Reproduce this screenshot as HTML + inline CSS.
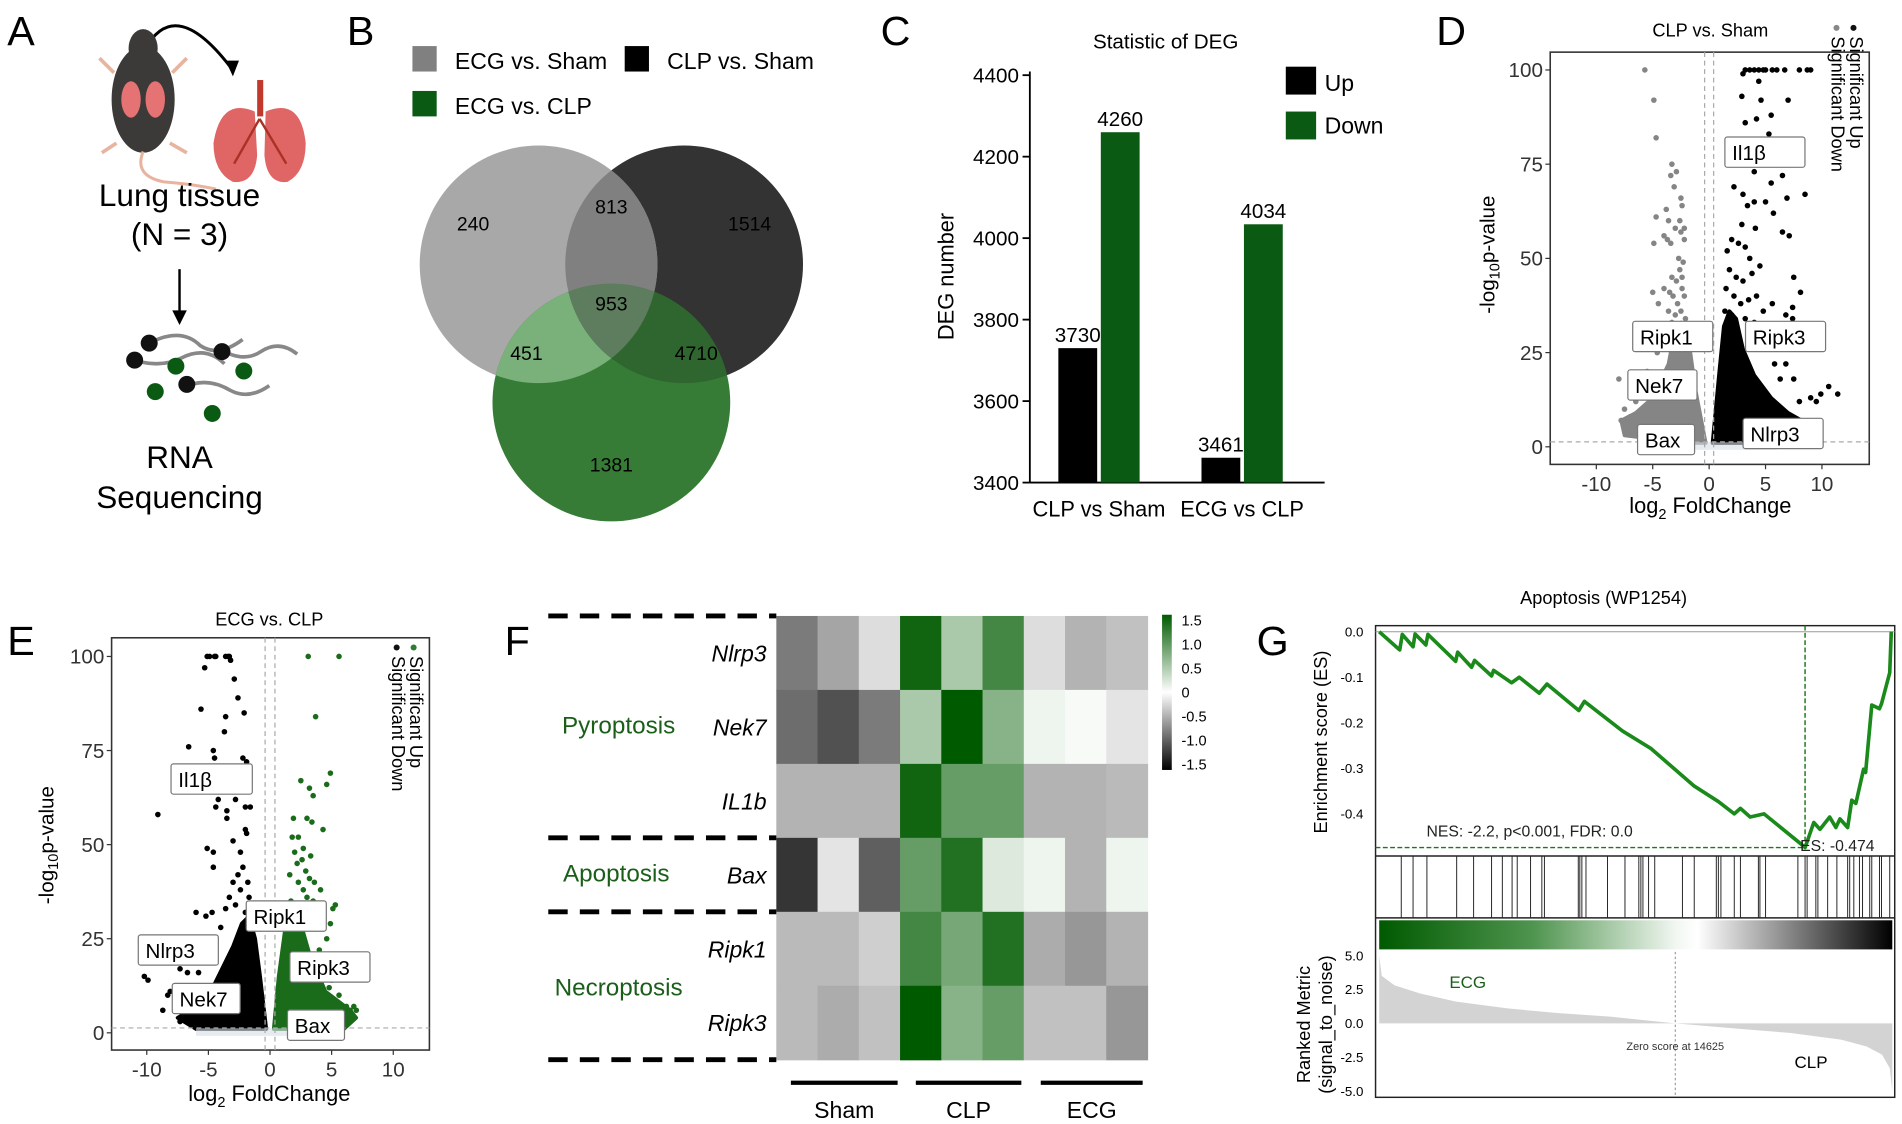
<!DOCTYPE html>
<html><head><meta charset="utf-8"><style>
html,body{margin:0;padding:0;background:#fff;}
svg{display:block;font-family:"Liberation Sans",sans-serif;}
</style></head><body>
<svg id="fig" xmlns="http://www.w3.org/2000/svg" width="1902" height="1124" viewBox="0 0 1568 927" preserveAspectRatio="none">
<defs>
<linearGradient id="gsea-bar" x1="0" x2="1" y1="0" y2="0">
<stop offset="0" stop-color="#005a00"/><stop offset="0.3" stop-color="#4f944f"/><stop offset="0.58" stop-color="#f2f7f2"/><stop offset="0.62" stop-color="#ffffff"/><stop offset="1" stop-color="#000"/>
</linearGradient>
<linearGradient id="heat-bar" x1="0" x2="0" y1="0" y2="1">
<stop offset="0" stop-color="#005a00"/><stop offset="0.5" stop-color="#ffffff"/><stop offset="1" stop-color="#000"/>
</linearGradient>
<clipPath id="clip-gray"><circle cx="444" cy="218" r="98"/></clipPath>
<clipPath id="clip-dark"><circle cx="564" cy="218" r="98"/></clipPath>
<clipPath id="clip-green"><circle cx="504" cy="332" r="98"/></clipPath>
</defs>
<!-- Panel A -->
<g>
<text x="6" y="37" font-size="34">A</text>
<path d="M120 40 Q145 -5 192 58" fill="none" stroke="#000" stroke-width="2.5"/>
<polygon points="186,50 197,50 192,63" fill="#000"/>
<g>
<ellipse cx="118" cy="82" rx="26" ry="44" fill="#3c3a38"/>
<ellipse cx="118" cy="40" rx="12" ry="16" fill="#3c3a38"/>
<ellipse cx="108" cy="82" rx="8" ry="15" fill="#e57373"/><ellipse cx="128" cy="82" rx="8" ry="15" fill="#e57373"/>
<path d="M118 125 Q110 145 135 150 Q160 152 178 156" fill="none" stroke="#e8b4a0" stroke-width="2.5"/>
<line x1="94" y1="60" x2="82" y2="48" stroke="#e8b4a0" stroke-width="3"/><line x1="142" y1="60" x2="154" y2="48" stroke="#e8b4a0" stroke-width="3"/>
<line x1="96" y1="118" x2="84" y2="126" stroke="#e8b4a0" stroke-width="3"/><line x1="140" y1="118" x2="154" y2="126" stroke="#e8b4a0" stroke-width="3"/>
</g>
<g>
<rect x="212" y="66" width="5" height="30" fill="#c0392b"/>
<path d="M210 92 Q182 80 176 118 Q176 142 192 150 Q210 152 212 128 Z" fill="#e06666"/>
<path d="M219 92 Q248 80 252 118 Q252 142 237 150 Q220 152 218 128 Z" fill="#e06666"/>
<path d="M214 98 L193 135 M214 98 L236 135" stroke="#a93226" stroke-width="2" fill="none"/>
</g>
<text x="148" y="170" font-size="26" text-anchor="middle">Lung tissue</text>
<text x="148" y="202" font-size="26" text-anchor="middle">(N = 3)</text>
<line x1="148" y1="222" x2="148" y2="258" stroke="#000" stroke-width="2"/>
<polygon points="142,256 154,256 148,268" fill="#000"/>
<g fill="none" stroke="#888" stroke-width="3">
<path d="M125 282 Q150 270 165 285 Q180 295 200 280"/>
<path d="M105 295 Q130 305 150 295 Q170 285 185 300"/>
<path d="M180 287 Q200 300 215 290 Q230 280 245 292"/>
<path d="M150 320 Q170 310 190 322 Q205 330 222 318"/>
</g>
<g>
<circle cx="123" cy="283" r="7" fill="#111"/><circle cx="111" cy="297" r="7" fill="#111"/><circle cx="183" cy="290" r="7" fill="#111"/><circle cx="154" cy="317" r="7" fill="#111"/>
<circle cx="145" cy="302" r="7" fill="#0a5a14"/><circle cx="128" cy="323" r="7" fill="#0a5a14"/><circle cx="201" cy="306" r="7" fill="#0a5a14"/><circle cx="175" cy="341" r="7" fill="#0a5a14"/>
</g>
<text x="148" y="386" font-size="26" text-anchor="middle">RNA</text>
<text x="148" y="419" font-size="26" text-anchor="middle">Sequencing</text>
</g>
<!-- Panel B -->
<g>
<text x="286" y="37" font-size="34">B</text>
<rect x="340" y="38" width="20" height="21" fill="#808080"/>
<text x="375" y="57" font-size="19">ECG vs. Sham</text>
<rect x="515" y="38" width="20" height="21" fill="#000"/>
<text x="550" y="57" font-size="19">CLP vs. Sham</text>
<rect x="340" y="75" width="20" height="21" fill="#0a5a14"/>
<text x="375" y="94" font-size="19">ECG vs. CLP</text>
<circle cx="564" cy="218" r="98" fill="#333333"/>
<circle cx="444" cy="218" r="98" fill="#a8a8a8"/>
<circle cx="504" cy="332" r="98" fill="#367c36"/>
<g clip-path="url(#clip-gray)">
<circle cx="564" cy="218" r="98" fill="#808080"/>
<circle cx="504" cy="332" r="98" fill="#7ab07a"/>
</g>
<g clip-path="url(#clip-dark)">
<circle cx="504" cy="332" r="98" fill="#2f662f"/>
<g clip-path="url(#clip-gray)"><circle cx="504" cy="332" r="98" fill="#5e7c5e"/></g>
</g>
<g id="venn-labels" font-size="16" text-anchor="middle"></g>
</g>
<!-- Panel C -->
<g id="panel-c">
<text x="726" y="37" font-size="34">C</text>
<text x="961" y="40" font-size="17" text-anchor="middle">Statistic of DEG</text>
<text transform="translate(786,228) rotate(-90)" font-size="18" text-anchor="middle">DEG number</text>
<rect x="1060" y="55" width="25" height="23" fill="#000"/>
<text x="1092" y="75" font-size="19">Up</text>
<rect x="1060" y="92" width="25" height="23" fill="#0a5a14"/>
<text x="1092" y="110" font-size="19">Down</text>
</g>
<!-- Panel D -->
<g id="panel-d">
<text x="1184" y="37" font-size="34">D</text>
<text x="1410" y="30" font-size="15" text-anchor="middle">CLP vs. Sham</text>
<text transform="translate(1232,210) rotate(-90)" font-size="17" text-anchor="middle">-log<tspan font-size="12" dy="4">10</tspan><tspan dy="-4">p-value</tspan></text>
<text x="1410" y="423" font-size="18" text-anchor="middle">log<tspan font-size="12" dy="5">2</tspan><tspan dy="-5"> FoldChange</tspan></text>
</g>
<!-- Panel E -->
<g id="panel-e">
<text x="6" y="540" font-size="34">E</text>
<text x="222" y="516" font-size="15" text-anchor="middle">ECG vs. CLP</text>
<text transform="translate(44,697) rotate(-90)" font-size="17" text-anchor="middle">-log<tspan font-size="12" dy="4">10</tspan><tspan dy="-4">p-value</tspan></text>
<text x="222" y="908" font-size="18" text-anchor="middle">log<tspan font-size="12" dy="5">2</tspan><tspan dy="-5"> FoldChange</tspan></text>
</g>
<!-- Panel F -->
<g id="panel-f">
<text x="416" y="540" font-size="34">F</text>
<rect x="958" y="507" width="8" height="128" fill="url(#heat-bar)"/>
<text x="510" y="605" font-size="20" fill="#1a5e1a" text-anchor="middle">Pyroptosis</text>
<text x="508" y="727" font-size="20" fill="#1a5e1a" text-anchor="middle">Apoptosis</text>
<text x="510" y="821" font-size="20" fill="#1a5e1a" text-anchor="middle">Necroptosis</text>
</g>
<!-- Panel G -->
<g id="panel-g">
<text x="1036" y="540" font-size="34">G</text>
<text x="1322" y="498" font-size="15" text-anchor="middle">Apoptosis (WP1254)</text>
<text transform="translate(1094,612) rotate(-90)" font-size="15" text-anchor="middle">Enrichment score (ES)</text>
<text transform="translate(1080,845) rotate(-90)" font-size="15" text-anchor="middle">Ranked Metric</text>
<text transform="translate(1098,845) rotate(-90)" font-size="15" text-anchor="middle">(signal_to_noise)</text>
</g>
</svg>
<script>
// ---------- data ----------
const vennValues = [240, 813, 1514, 953, 451, 4710, 1381];
const degCategories = ["CLP vs Sham", "ECG vs CLP"];
const degUp = [3730, 3461];
const degDown = [4260, 4034];
const degTicks = [3400, 3600, 3800, 4000, 4200, 4400];

const volTicksX = [-10, -5, 0, 5, 10];
const volTicksY = [0, 25, 50, 75, 100];
const dDownPts = [[-5.7,100],[-4.9,92],[-4.7,82],[-3.3,75],[-3.4,72],[-2.9,73],[-3.1,69],[-2.5,66],[-2.4,64],[-3.8,63],[-4.7,61],[-3.6,60],[-2.6,60],[-3.0,58],[-2.5,57],[-2.2,58],[-4.0,56],[-3.7,55],[-2.2,55],[-4.9,54],[-3.4,54],[-2.7,50],[-2.3,49],[-3.3,45],[-5.0,41],[-4.0,42],[-4.5,38],[-3.2,40],[-8.0,18],[-7.5,10],[-7.0,8],[-6.5,12],[-6.0,14],[-5.5,20],[-5.0,28],[-4.3,30],[-4.6,25],[-6.4,6],[-7.8,7],[-2.8,38],[-2.4,42],[-3.6,36],[-2.6,47],[-2.9,44],[-2.2,40],[-3.0,35],[-2.5,36],[-3.3,33],[-2.1,34],[-2.7,31],[-3.8,31],[-3.5,41],[-2.4,45]];
const dDownArea = [[-0.3,1],[-1.2,15],[-1.8,28],[-2.5,33],[-3.1,30],[-3.6,22],[-5.0,13],[-6.5,9],[-7.8,7],[-7.5,3],[-2.0,1]];
const dUpPts = [[3.0,99],[3.2,100],[3.6,100],[4.0,100],[4.4,100],[4.8,100],[5.0,100],[5.6,100],[6.0,100],[6.7,100],[8.0,100],[8.7,100],[9.0,100],[4.4,97],[2.9,93],[4.6,92],[7.0,92],[5.5,88],[3.2,86],[4.2,87],[5.3,83],[8.5,67],[6.5,72],[4.0,73],[5.5,70],[6.9,66],[2.2,69],[3.0,67],[3.4,64],[4.0,65],[5.0,65],[5.7,62],[2.9,59],[4.1,58],[6.5,57],[7.1,56],[7.5,45],[8.1,41],[7.4,37],[7.4,34],[6.8,35],[9.5,12],[9.0,13],[10.6,16],[11.4,14],[9.9,14],[8.0,12],[5.6,38],[6.0,28],[6.8,22],[7.5,18],[1.6,52],[2.0,55],[2.6,54],[3.2,53],[3.6,50],[1.8,47],[2.4,45],[3.0,44],[3.8,46],[4.5,48],[1.5,42],[2.2,40],[2.8,38],[3.5,39],[4.2,40],[1.4,36],[2.0,35],[3.2,34],[4.0,33],[4.8,36],[5.2,30],[4.5,27],[3.6,30],[5.8,22],[6.3,18]];
const dUpArea = [[0.3,1],[0.9,20],[1.3,32],[1.8,36],[2.4,34],[3.0,26],[4.0,19],[5.5,13],[7.0,9],[8.2,7],[8.3,2],[5.0,1]];

const eUpPts = [[-5.1,100],[-4.9,100],[-4.5,100],[-4.4,100],[-3.6,100],[-3.4,100],[-3.3,100],[-3.2,99],[-5.3,97],[-2.9,94],[-2.6,89],[-5.6,86],[-2.1,85],[-3.6,84],[-3.7,80],[-6.6,76],[-4.6,75],[-4.5,73],[-2.2,73],[-1.9,72],[-9.1,58],[-4.2,62],[-2.8,62],[-4.4,60],[-2.0,60],[-1.6,60],[-3.5,59],[-3.5,57],[-2.0,54],[-1.9,53],[-3.0,51],[-5.1,49],[-4.6,48],[-2.4,48],[-4.6,44],[-10.2,15],[-9.9,14],[-8.3,10],[-8.1,11],[-8.7,6],[-6.0,32],[-5.2,31],[-4.7,32],[-7.3,17],[-6.7,16],[-7.3,3],[-2.2,44],[-2.6,42],[-1.8,40],[-3.0,40],[-2.4,38],[-3.3,36],[-1.7,36],[-2.8,34],[-3.6,33],[-2.0,32],[-4.0,28],[-4.5,24],[-5.0,20],[-5.8,16],[-6.5,12]];
const eUpArea = [[-0.3,1],[-0.8,15],[-1.2,25],[-1.7,31],[-2.3,29],[-3.0,23],[-4.5,13],[-6.0,7],[-7.5,4],[-6.0,1]];
const eDownPts = [[3.1,100],[5.6,100],[3.7,84],[2.5,67],[3.2,65],[4.9,69],[4.6,66],[3.5,63],[1.9,57],[3.0,57],[3.4,56],[4.3,54],[2.3,52],[2.7,49],[3.3,47],[4.1,38],[5.3,34],[5.1,33],[4.9,29],[6.2,7],[6.8,7],[7.0,6],[6.5,6],[4.8,12],[4.2,12],[3.9,11],[3.6,40],[2.2,45],[4.6,25],[1.8,52],[2.0,48],[2.6,46],[2.9,43],[3.2,41],[1.6,42],[2.3,40],[2.7,38],[3.0,36],[3.5,35],[1.7,35],[2.2,34],[3.8,30],[4.2,28],[4.0,22],[5.0,14],[5.6,10]];
const eDownArea = [[0.3,1],[0.7,15],[1.2,27],[1.8,31],[2.5,29],[3.2,21],[4.5,11],[6.5,6],[7.0,4],[6.0,1]];

const heatGenes = ["Nlrp3","Nek7","IL1b","Bax","Ripk1","Ripk3"];
const heatSamples = ["Sham1","Sham2","Sham3","CLP1","CLP2","CLP3","ECG1","ECG2","ECG3"];
const heatValues = [
 [-0.8,-0.5,-0.1,1.4,0.5,1.1,-0.1,-0.4,-0.3],
 [-0.9,-1.1,-0.8,0.5,1.6,0.7,0.1,0.05,-0.05],
 [-0.4,-0.4,-0.4,1.4,0.9,0.9,-0.4,-0.4,-0.35],
 [-1.3,-0.05,-1.0,0.9,1.3,0.2,0.1,-0.4,0.1],
 [-0.35,-0.35,-0.2,1.1,0.8,1.3,-0.45,-0.6,-0.4],
 [-0.35,-0.45,-0.3,1.6,0.7,0.9,-0.3,-0.3,-0.6]];
const heatScaleTicks = ["1.5","1.0","0.5","0","-0.5","-1.0","-1.5"];

const esRank = [0,0.04,0.045,0.066,0.07,0.091,0.095,0.149,0.153,0.18,0.186,0.219,0.223,0.258,0.273,0.312,0.327,0.389,0.4,0.474,0.529,0.614,0.661,0.692,0.704,0.723,0.75,0.824,0.83,0.847,0.859,0.878,0.89,0.898,0.913,0.921,0.929,0.944,0.948,0.96,0.975,0.979,0.995,0.998];
const esValue = [0,-0.04,-0.006,-0.033,-0.005,-0.029,-0.006,-0.065,-0.045,-0.078,-0.063,-0.097,-0.085,-0.112,-0.1,-0.135,-0.115,-0.173,-0.153,-0.218,-0.256,-0.339,-0.373,-0.4,-0.388,-0.407,-0.4,-0.468,-0.474,-0.419,-0.434,-0.407,-0.43,-0.411,-0.43,-0.37,-0.377,-0.302,-0.309,-0.161,-0.169,-0.158,-0.09,0];
const esTicks = [0,-0.1,-0.2,-0.3,-0.4];
const hitRanks = [.043,.066,.093,.151,.184,.219,.240,.259,.269,.295,.317,.322,.388,.391,.395,.403,.445,.479,.506,.510,.514,.525,.537,.591,.614,.657,.661,.666,.692,.704,.739,.742,.753,.816,.830,.834,.851,.855,.874,.892,.913,.917,.925,.936,.942,.956,.960,.975,.979,.995];
const metricRank = [0,0.005,0.03,0.08,0.15,0.25,0.35,0.45,0.577,0.7,0.8,0.9,0.95,0.98,0.995,1];
const metricValue = [5,3.5,2.8,2.2,1.6,1.1,0.75,0.5,0,-0.4,-0.7,-1.2,-1.7,-2.3,-3.3,-5];
const metricTicks = [5,2.5,0,-2.5,-5];
const esMin = -0.474, esMinRank = 0.83, zeroRank = 0.577;

// ---------- helpers ----------
const NS = "http://www.w3.org/2000/svg";
function mk(parent, tag, attrs, name, inter) {
  const el = document.createElementNS(NS, tag);
  for (const k in attrs) el.setAttribute(k, attrs[k]);
  
  
  parent.appendChild(el);
  return el;
}
function txt(parent, x, y, s, size, name, extra) {
  const a = Object.assign({x:x, y:y, 'font-size':size}, extra || {});
  const t = mk(parent, 'text', a, name, false);
  t.textContent = s;
  return t;
}

// ---------- Venn ----------
(function(){
  const g = document.getElementById('venn-labels');
  const pos = [[390,190],[504,176],[618,190],[504,256],[434,297],[574,297],[504,389]];
  const names = ['venn-ecg-sham-only','venn-ecg-sham-clp-sham','venn-clp-sham-only','venn-all-three','venn-ecg-sham-ecg-clp','venn-clp-sham-ecg-clp','venn-ecg-clp-only'];
  vennValues.forEach((v,i)=>{ txt(g, pos[i][0], pos[i][1], String(v), 16, names[i], {'text-anchor':'middle'}); });
})();

// ---------- Bar chart C ----------
(function(){
  const g = document.getElementById('panel-c');
  const y0 = 398, top = 62, vmin = 3400, vmax = 4400;
  const yC = v => y0 - (v - vmin) * (y0 - top) / (vmax - vmin);
  const centers = [906, 1024], bw = 32, gap = 3;
  mk(g,'line',{x1:849,y1:top-3,x2:849,y2:y0,stroke:'#000','stroke-width':1.5},'y-axis-deg',false);
  mk(g,'line',{x1:849,y1:y0,x2:1092,y2:y0,stroke:'#000','stroke-width':1.5},'x-axis-deg',false);
  degTicks.forEach(t=>{
    mk(g,'line',{x1:843,y1:yC(t),x2:849,y2:yC(t),stroke:'#000','stroke-width':1.5},'y-tick-'+t,false);
    txt(g, 840, yC(t)+6, String(t), 17, 'y-tick-label-'+t, {'text-anchor':'end'});
  });
  degCategories.forEach((c,i)=>{
    const xu = centers[i] - gap/2 - bw, xd = centers[i] + gap/2;
    mk(g,'rect',{x:xu,y:yC(degUp[i]),width:bw,height:y0-yC(degUp[i]),fill:'#000'},'bar-up-'+i,false);
    mk(g,'rect',{x:xd,y:yC(degDown[i]),width:bw,height:y0-yC(degDown[i]),fill:'#0a5a14'},'bar-down-'+i,false);
    txt(g, xu+bw/2, yC(degUp[i])-5, String(degUp[i]), 17, 'value-up-'+i, {'text-anchor':'middle'});
    txt(g, xd+bw/2, yC(degDown[i])-5, String(degDown[i]), 17, 'value-down-'+i, {'text-anchor':'middle'});
    txt(g, centers[i], 426, c, 18, 'x-tick-label-'+i, {'text-anchor':'middle'});
  });
})();

// ---------- Volcano ----------
function volcano(gid, box, x0, xs, y0, ys, downPts, downArea, upPts, upArea, leftColor, rightColor, labels, legend) {
  const g = document.getElementById(gid);
  const X = v => x0 + v*xs, Y = v => y0 - v*ys;
  mk(g,'rect',{x:box[0],y:box[1],width:box[2],height:box[3],fill:'#fff',stroke:'#333','stroke-width':1.3},'plot-area',false);
  mk(g,'polygon',{points:downArea.map(p=>X(p[0])+','+Y(p[1])).join(' '),fill:leftColor,stroke:leftColor,'stroke-width':3,'stroke-linejoin':'round'},'dense-left',false);
  mk(g,'polygon',{points:upArea.map(p=>X(p[0])+','+Y(p[1])).join(' '),fill:rightColor,stroke:rightColor,'stroke-width':3,'stroke-linejoin':'round'},'dense-right',false);
  mk(g,'rect',{x:X(-6),y:Y(1.2),width:X(6)-X(-6),height:Y(-0.8)-Y(1.2),fill:'#d6dde6',opacity:0.6},'nonsig-points',false);
  downPts.forEach((p,i)=>mk(g,'circle',{cx:X(p[0]),cy:Y(p[1]),r:2.3,fill:leftColor},'point-left-'+i,false));
  upPts.forEach((p,i)=>mk(g,'circle',{cx:X(p[0]),cy:Y(p[1]),r:2.3,fill:rightColor},'point-right-'+i,false));
  mk(g,'line',{x1:X(-0.4),y1:box[1],x2:X(-0.4),y2:box[1]+box[3],stroke:'#aaa','stroke-dasharray':'4 3'},'fc-threshold-left',false);
  mk(g,'line',{x1:X(0.4),y1:box[1],x2:X(0.4),y2:box[1]+box[3],stroke:'#aaa','stroke-dasharray':'4 3'},'fc-threshold-right',false);
  mk(g,'line',{x1:box[0],y1:Y(1.3),x2:box[0]+box[2],y2:Y(1.3),stroke:'#aaa','stroke-dasharray':'4 3'},'p-threshold',false);
  volTicksY.forEach(t=>{
    mk(g,'line',{x1:box[0]-4,y1:Y(t),x2:box[0],y2:Y(t),stroke:'#333'},'y-tick-'+t,false);
    txt(g, box[0]-6, Y(t)+6, String(t), 17, 'y-tick-label-'+t, {'text-anchor':'end',fill:'#333'});
  });
  volTicksX.forEach(t=>{
    mk(g,'line',{x1:X(t),y1:box[1]+box[3],x2:X(t),y2:box[1]+box[3]+4,stroke:'#333'},'x-tick-'+t,false);
    txt(g, X(t), box[1]+box[3]+22, String(t), 17, 'x-tick-label-'+t, {'text-anchor':'middle',fill:'#333'});
  });
  labels.forEach(l=>{
    mk(g,'rect',{x:l[1],y:l[2],width:l[3],height:25,fill:'#fff',stroke:'#777','stroke-width':1,rx:2},'gene-label-box-'+l[0],false);
    txt(g, l[1]+6, l[2]+19, l[0], 17, 'gene-label-'+l[0], {});
  });
  mk(g,'circle',{cx:legend[0],cy:legend[1],r:2.5,fill:legend[2]},'legend-dot-1',false);
  mk(g,'circle',{cx:legend[0]+14,cy:legend[1],r:2.5,fill:legend[3]},'legend-dot-2',false);
  txt(g, 0, 0, 'Significant Up', 15, 'legend-significant-up', {transform:'translate('+(legend[0]+11)+','+(legend[1]+7)+') rotate(90)'});
  txt(g, 0, 0, 'Significant Down', 15, 'legend-significant-down', {transform:'translate('+(legend[0]-4)+','+(legend[1]+7)+') rotate(90)'});
}
volcano('panel-d',[1278,43,263,340],1409,9.3,368.5,3.108,dDownPts,dDownArea,dUpPts,dUpArea,'#858585','#000',
  [['Il1β',1422,113,66],['Ripk1',1346,265,66],['Ripk3',1439,265,66],['Nek7',1342,305,57],['Bax',1350,350,47],['Nlrp3',1437,345,66]],
  [1514,23,'#888','#111']);
volcano('panel-e',[92,526,262,340],222.6,10.16,851.8,3.104,eUpPts,eUpArea,eDownPts,eDownArea,'#000','#1a6b1a',
  [['Il1β',141,630,67],['Ripk1',203,743,66],['Nlrp3',114,771,66],['Ripk3',239,785,66],['Nek7',142,811,56],['Bax',237,833,47]],
  [327,534,'#111','#2e7d32']);

// ---------- Heatmap F ----------
(function(){
  const g = document.getElementById('panel-f');
  const hx0 = 640, hy0 = 508, cw = 34, ch = 61;
  function col(v){
    if (v >= 0) { const t = Math.min(v/1.5,1); const r = Math.round(255*(1-t)), gg = Math.round(255 - (255-90)*t); return 'rgb('+r+','+gg+','+r+')'; }
    const c = Math.max(0, Math.round(235 - 140*(-v))); return 'rgb('+c+','+c+','+c+')';
  }
  heatValues.forEach((row,r)=>{
    row.forEach((v,c)=>{
      mk(g,'rect',{x:hx0+c*cw,y:hy0+r*ch,width:cw+0.5,height:ch+0.5,fill:col(v)},'heat-cell-'+heatGenes[r]+'-'+heatSamples[c],false);
    });
    txt(g, 632, hy0+r*ch+ch/2+7, heatGenes[r], 19, 'gene-row-label-'+heatGenes[r], {'text-anchor':'end','font-style':'italic'});
  });
  [0,3,4,6].forEach(r=>mk(g,'line',{x1:452,y1:hy0+r*ch,x2:640,y2:hy0+r*ch,stroke:'#000','stroke-width':4,'stroke-dasharray':'16 10'},'group-divider-'+r,false));
  heatScaleTicks.forEach((t,i)=>txt(g, 974, 516+i*19.8, t, 12, 'colorbar-tick-'+i, {}));
  const groups = [['Sham',652,740],['CLP',755,842],['ECG',858,942]];
  groups.forEach(gr=>{
    mk(g,'line',{x1:gr[1],y1:893,x2:gr[2],y2:893,stroke:'#000','stroke-width':3.5},'group-bar-'+gr[0],false);
    txt(g,(gr[1]+gr[2])/2,922,gr[0],19,'group-label-'+gr[0],{'text-anchor':'middle'});
  });
})();

// ---------- GSEA G ----------
(function(){
  const g = document.getElementById('panel-g');
  const L = 1134, R = 1562, xa = 1137, xb = 1560;
  const X = f => xa + f*(xb-xa);
  const esTop = 516, esBot = 706, esY0 = 521, esK = (699-521)/0.474;
  const ES = v => esY0 - v*esK;
  const mTop = 785, mBot = 905, m0 = 844, mK = (900-844)/5;
  const M = v => m0 - v*mK;
  mk(g,'rect',{x:L,y:esTop,width:R-L,height:mBot-esTop,fill:'#fff',stroke:'#222','stroke-width':1.2},'gsea-frame',false);
  mk(g,'line',{x1:L,y1:esBot,x2:R,y2:esBot,stroke:'#222','stroke-width':1.2},'es-panel-bottom',false);
  mk(g,'line',{x1:L,y1:757,x2:R,y2:757,stroke:'#222','stroke-width':1.2},'hits-panel-bottom',false);
  mk(g,'line',{x1:L,y1:ES(0),x2:R,y2:ES(0),stroke:'#999','stroke-width':0.8},'es-zero-line',false);
  esTicks.forEach(t=>txt(g,1124,ES(t)+4,t.toFixed(1),11,'es-tick-'+t,{'text-anchor':'end'}));
  mk(g,'line',{x1:L,y1:ES(esMin),x2:X(esMinRank),y2:ES(esMin),stroke:'#1a7a1a','stroke-width':1.2,'stroke-dasharray':'4 2'},'es-min-hline',false);
  mk(g,'line',{x1:X(esMinRank),y1:esTop,x2:X(esMinRank),y2:ES(esMin),stroke:'#1a7a1a','stroke-width':1.2,'stroke-dasharray':'4 2'},'es-min-vline',false);
  mk(g,'polyline',{points:esRank.map((r,i)=>X(r)+','+ES(esValue[i])).join(' '),fill:'none',stroke:'#1a8a1a','stroke-width':3,'stroke-linejoin':'round'},'es-curve',false);
  txt(g,1176,690,'NES: -2.2, p<0.001, FDR: 0.0',13,'nes-annotation',{fill:'#222'});
  txt(g,1484,702,'ES: -0.474',13,'es-annotation',{fill:'#222'});
  hitRanks.forEach((h,i)=>mk(g,'line',{x1:X(h),y1:esBot,x2:X(h),y2:757,stroke:'#222','stroke-width':0.8},'hit-'+i,false));
  mk(g,'rect',{x:xa,y:759,width:xb-xa,height:24,fill:'url(#gsea-bar)'},'rank-colorbar',false);
  const pts = metricRank.map((r,i)=>X(r)+','+M(metricValue[i]));
  mk(g,'polygon',{points:X(0)+','+M(0)+' '+pts.join(' ')+' '+X(1)+','+M(0),fill:'#d3d3d3'},'ranked-metric-area',false);
  metricTicks.forEach(t=>txt(g,1124,M(t)+4,t.toFixed(1),11,'metric-tick-'+t,{'text-anchor':'end'}));
  mk(g,'line',{x1:X(zeroRank),y1:mTop,x2:X(zeroRank),y2:mBot,stroke:'#888','stroke-width':0.8,'stroke-dasharray':'2 2'},'zero-score-line',false);
  txt(g,X(zeroRank),866,'Zero score at 14625',9,'zero-score-label',{'text-anchor':'middle',fill:'#333'});
  txt(g,1210,815,'ECG',14,'ecg-label',{'text-anchor':'middle',fill:'#1a5e1a'});
  txt(g,1493,881,'CLP',14,'clp-label',{'text-anchor':'middle'});
})();
</script>
</body></html>
